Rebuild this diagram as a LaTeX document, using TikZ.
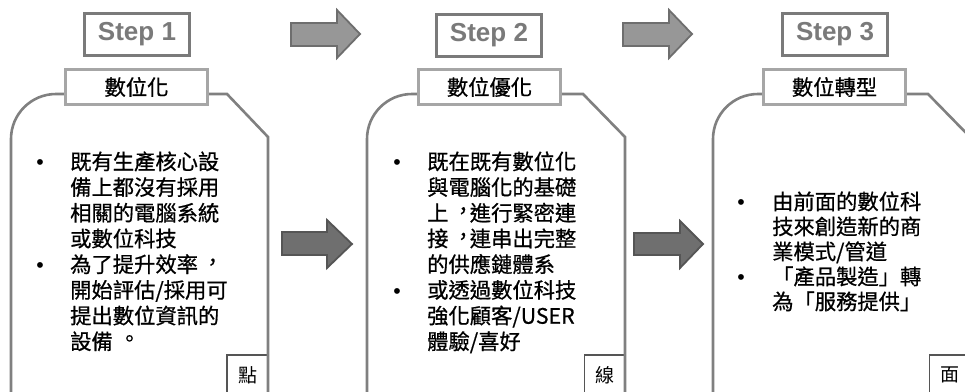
\documentclass[tikz,border=0pt]{standalone}
\usepackage{fontspec}
\setmainfont{Liberation Sans}
\newfontfamily\cjk{Noto Sans CJK TC}[Script=CJK, Language=Chinese Traditional, FakeBold=0.7]
\newfontfamily\cjkthin{Noto Sans CJK TC}[Script=CJK, Language=Chinese Traditional]
\newcommand\tcm{\makebox[21.3pt][l]{\kern4pt\raisebox{2.5pt}[0pt][0pt]{，}}}
\newcommand\tpd{\makebox[21.3pt][l]{\kern6pt\raisebox{3pt}[0pt][0pt]{。}}}
\definecolor{cardgray}{HTML}{808080}
\definecolor{stepgray}{HTML}{7A7A7A}
\definecolor{labgray}{HTML}{A6A6A6}
\definecolor{arrowfillA}{HTML}{979797}
\definecolor{arrowedgeA}{HTML}{6E6E6E}
\definecolor{arrowfillB}{HTML}{6F6F6F}
\definecolor{arrowedgeB}{HTML}{555555}
\definecolor{cornergray}{HTML}{555555}
\tikzset{
  cardline/.style={draw=cardgray, line width=2.6pt},
  stepbox/.style={draw=stepgray, line width=3pt, fill=white, minimum width=105pt, minimum height=42pt, inner sep=0pt,
    text=stepgray, font=\fontsize{26}{30}\selectfont\bfseries},
  labbox/.style={draw=labgray, line width=2.5pt, fill=white, minimum width=142pt, minimum height=35pt, inner sep=0pt,
    font=\cjk\fontsize{21.3}{25}\selectfont},
  cornerbox/.style={draw=cornergray, line width=1.2pt, fill=white, minimum width=41pt, minimum height=40pt, inner sep=0pt,
    font=\cjkthin\fontsize{19}{22}\selectfont},
  txt/.style={anchor=base west, inner sep=0pt, font=\cjk\fontsize{21.3}{25}\selectfont},
  bul/.style={anchor=base, inner sep=0pt, font=\fontsize{21.3}{25}\selectfont},
  toparrow/.style={fill=arrowfillA, draw=arrowedgeA, line width=1.8pt, line join=miter},
  midarrow/.style={fill=arrowfillB, draw=arrowedgeB, line width=1.8pt, line join=miter},
}
\begin{document}
\begin{tikzpicture}[x=1pt,y=-1pt]
\clip (0,0) rectangle (965,391);
\fill[white] (0,0) rectangle (965,391);

% ---------- arrows ----------
\draw[toparrow] (291,23) -- (337,23) -- (337,10) -- (360,34) -- (337,58) -- (337,46) -- (291,46) -- cycle;
\draw[toparrow] (623,23) -- (669,23) -- (669,10) -- (692,34) -- (669,58) -- (669,46) -- (623,46) -- cycle;
\draw[midarrow] (282,232) -- (327,232) -- (327,220) -- (352,244) -- (327,268) -- (327,255) -- (282,255) -- cycle;
\draw[midarrow] (634,233) -- (680,233) -- (680,221) -- (703,244) -- (680,268) -- (680,255) -- (634,255) -- cycle;

% ---------- corner boxes ----------
\node[cornerbox] (c1) at (247.5,375) {點};
\node[cornerbox] (c2) at (605,375) {線};
\node[cornerbox] (c3) at (950,375) {面};

% ---------- cards ----------
\draw[cardline] (11,400) -- (11,139) .. controls (11,114.15) and (31.15,94) .. (56,94) -- (227,94) -- (268,137) -- (268,400);
\draw[cardline] (367,400) -- (367,139) .. controls (367,114.15) and (387.15,94) .. (412,94) -- (583,94) -- (625,137) -- (625,400);
\draw[cardline] (713,400) -- (713,139) .. controls (713,114.15) and (733.15,94) .. (758,94) -- (928,94) -- (971,138) -- (971,400);

% ---------- step boxes ----------
\node[stepbox] (s1) at (137,34.5) {Step 1};
\node[stepbox] (s2) at (489,35.5) {Step 2};
\node[stepbox] (s3) at (835,34.5) {Step 3};

% ---------- label boxes ----------
\node[labbox] (l1) at (136.5,87) {數位化};
\node[labbox] (l2) at (489.5,87) {數位優化};
\node[labbox] (l3) at (834.5,87) {數位轉型};

% ---------- card texts ----------
\foreach \t [count=\i from 0] in {既有生產核心設,備上都沒有採用,相關的電腦系統,或數位科技,為了提升效率\tcm,開始評估/採用可,提出數位資訊的,設備\tpd}
  \node[txt] (a\i) at (70,{169.5+25.7*\i}) {\t};
\node[bul] (ab1) at (40,169.5) {•};
\node[bul] (ab2) at (40,{169.5+25.7*4}) {•};

\foreach \t [count=\i from 0] in {既在既有數位化,與電腦化的基礎,上\tcm 進行緊密連,接\tcm 連串出完整,的供應鏈體系,或透過數位科技,強化顧客/USER,體驗/喜好}
  \node[txt] (b\i) at (427,{169.5+25.7*\i}) {\t};
\node[bul] (bb1) at (397,169.5) {•};
\node[bul] (bb2) at (397,{169.5+25.7*5}) {•};

\foreach \t [count=\i from 0] in {由前面的數位科,技來創造新的商,業模式/管道,「產品製造」轉,為「服務提供」}
  \node[txt] (d\i) at (772,{209.5+25*\i}) {\t};
\node[bul] (db1) at (741,209.5) {•};
\node[bul] (db2) at (741,{209.5+25*3}) {•};
\end{tikzpicture}
\end{document}
